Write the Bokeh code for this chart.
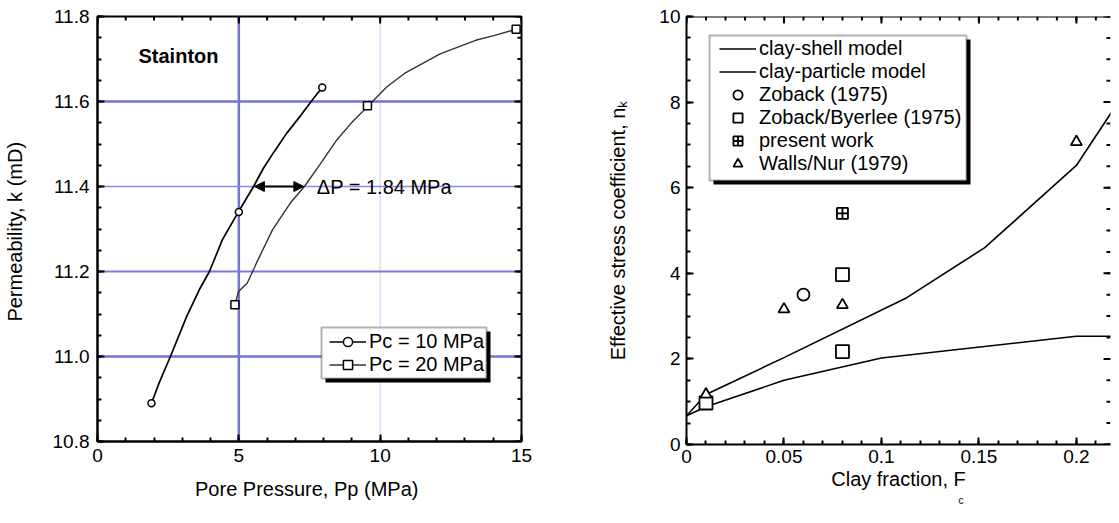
import numpy as np
from bokeh.plotting import figure
from bokeh.layouts import row
from bokeh.models import (FixedTicker, Range1d, Span, Label, Arrow, NormalHead, Legend,
                          LegendItem, Title, BoxAnnotation)
from bokeh.embed import file_html
from bokeh.resources import INLINE

FONT = "Liberation Sans"

# ---------------- left panel data ----------------
pc10_x = [1.91, 2.18, 2.58, 3.16, 3.60, 3.96, 4.42, 4.99, 5.52, 5.87, 6.25, 6.69, 7.20, 7.64, 7.95]
pc10_y = [10.89, 10.938, 11.0, 11.095, 11.157, 11.20, 11.275, 11.341, 11.40, 11.443, 11.482, 11.525, 11.568, 11.607, 11.633]
pc10_mx = [1.91, 5.0, 7.95]
pc10_my = [10.89, 11.34, 11.633]
pc20_x = [4.86, 4.99, 5.30, 5.68, 6.19, 6.82, 7.32, 7.89, 8.46, 8.96, 9.60, 10.23, 10.86, 11.49, 12.12, 12.75, 13.38, 14.02, 14.81]
pc20_y = [11.122, 11.153, 11.173, 11.228, 11.298, 11.361, 11.40, 11.454, 11.509, 11.548, 11.591, 11.634, 11.666, 11.689, 11.712, 11.728, 11.744, 11.755, 11.770]
pc20_mx = [4.86, 9.55, 14.81]
pc20_my = [11.122, 11.59, 11.770]
arrow_x = [5.55, 7.30]
arrow_y = 11.4
left_xticks = [0, 5, 10, 15]
left_xlabels = ["0", "5", "10", "15"]
left_yticks = [10.8, 11.0, 11.2, 11.4, 11.6, 11.8]
left_ylabels = ["10.8", "11.0", "11.2", "11.4", "11.6", "11.8"]
grid_x = [5, 10]
grid_y = [11.0, 11.2, 11.4, 11.6]

# ---------------- right panel data ----------------
shell_x = [0, 0.01, 0.05, 0.113, 0.153, 0.2, 0.22]
shell_y = [0.67, 1.17, 2.03, 3.43, 4.6, 6.52, 7.9]
particle_x = [0, 0.01, 0.05, 0.1, 0.2, 0.22]
particle_y = [0.67, 0.88, 1.5, 2.02, 2.53, 2.53]
zoback_x = [0.06]
zoback_y = [3.5]
zb_x = [0.01, 0.08, 0.08]
zb_y = [0.97, 3.97, 2.17]
present_x = [0.08]
present_y = [5.4]
walls_x = [0.01, 0.05, 0.08, 0.2]
walls_y = [1.17, 3.16, 3.26, 7.07]
right_xticks = [0, 0.05, 0.1, 0.15, 0.2]
right_xlabels = ["0", "0.05", "0.1", "0.15", "0.2"]
right_yticks = [0, 2, 4, 6, 8, 10]
right_ylabels = ["0", "2", "4", "6", "8", "10"]

MAJ_LEN, MIN_LEN, TICK_W = 7, 4, 2


def style_axes(p, fw, fh, xticks, xlabels, xminor, yticks, ylabels, yminor,
               tick_size="19px", open_right=False):
    bx = p.below[0]
    ly = p.left[0]
    bx.ticker = FixedTicker(ticks=xticks, minor_ticks=xminor)
    ly.ticker = FixedTicker(ticks=yticks, minor_ticks=yminor)
    bx.major_label_overrides = {float(v): s for v, s in zip(xticks, xlabels)}
    ly.major_label_overrides = {float(v): s for v, s in zip(yticks, ylabels)}
    for ax in (bx, ly):
        ax.axis_line_width = 2
        ax.axis_line_color = "black"
        ax.major_tick_in = MAJ_LEN
        ax.major_tick_out = 0
        ax.minor_tick_in = MIN_LEN
        ax.minor_tick_out = 0
        ax.major_tick_line_width = TICK_W
        ax.minor_tick_line_width = TICK_W
        ax.major_tick_line_color = "black"
        ax.minor_tick_line_color = "black"
        ax.major_label_text_font = FONT
        ax.major_label_text_font_size = tick_size
        ax.major_label_text_color = "black"
        ax.axis_label_text_font = FONT
        ax.axis_label_text_font_size = "20px"
        ax.axis_label_text_font_style = "normal"
        ax.axis_label_text_color = "black"
    # mirrored inward tick marks on the top and right edges of the frame
    x0, x1 = p.x_range.start, p.x_range.end
    y0, y1 = p.y_range.start, p.y_range.end
    dx = (x1 - x0) / fw
    dy = (y1 - y0) / fh
    for pos, ln in ((xminor, MIN_LEN), (xticks, MAJ_LEN)):
        pos = [v for v in pos if x0 <= v <= x1]
        p.segment(x0=pos, y0=[y1] * len(pos), x1=pos, y1=[y1 - ln * dy] * len(pos),
                  line_color="black", line_width=TICK_W)
    for pos, ln in ((yminor, MIN_LEN), (yticks, MAJ_LEN)):
        pos = [v for v in pos if y0 <= v <= y1]
        p.segment(x0=[x1] * len(pos), y0=pos, x1=[x1 - ln * dx] * len(pos), y1=pos,
                  line_color="black", line_width=TICK_W)
    if open_right:
        # the frame continues past the page edge: no right border line
        p.outline_line_color = None
        p.add_layout(Span(location=y1, dimension="width", line_color="black", line_width=2))
    else:
        p.outline_line_color = "black"
        p.outline_line_width = 2
    p.xgrid.visible = False
    p.ygrid.visible = False
    p.background_fill_color = "white"
    p.border_fill_color = "white"
    return bx, ly


def add_legend(p, items, loc, box, lh, pad):
    # box = (left, right, bottom, top) of the framed legend box, frame-relative pixels
    l, r, b, t = box
    scr = dict(left_units="screen", right_units="screen", top_units="screen",
               bottom_units="screen")
    p.add_layout(BoxAnnotation(left=l + 4, right=r + 4, bottom=b - 4, top=t - 4,
                               fill_color="black", fill_alpha=1, line_color=None, **scr))
    p.add_layout(BoxAnnotation(left=l, right=r, bottom=b, top=t, fill_color="white",
                               fill_alpha=1, line_color="black", line_width=2, **scr))
    lg = Legend(items=[LegendItem(label=lab, renderers=rr) for lab, rr in items],
                location=loc, label_text_font=FONT, label_text_font_size="20px",
                label_height=lh, glyph_height=lh, glyph_width=37, label_standoff=3,
                padding=pad, spacing=0, margin=0, border_line_color="black",
                border_line_alpha=0, background_fill_alpha=0, label_text_color="black")
    p.add_layout(lg)


# ================= LEFT =================
FW1, FH1 = 424, 425
p1 = figure(frame_width=FW1, frame_height=FH1, min_border_left=96, min_border_right=62,
            min_border_top=12, min_border_bottom=70,
            x_range=Range1d(0, 15), y_range=Range1d(10.8, 11.8),
            output_backend="svg", toolbar_location=None,
            x_axis_label="Pore Pressure, Pp  (MPa)", y_axis_label="Permeability, k  (mD)")
bx1, ly1 = style_axes(p1, FW1, FH1, left_xticks, left_xlabels, list(np.arange(0, 16, 1.0)),
                      left_yticks, left_ylabels, list(np.round(np.arange(10.8, 11.81, 0.05), 2)))
bx1.major_label_standoff = 7
ly1.major_label_standoff = 8
bx1.axis_label_standoff = 13
ly1.axis_label_standoff = 24

gx_styles = [("#7272d8", 2.5), ("#d4d4f4", 1.2)]
for v, (c, w) in zip(grid_x, gx_styles):
    p1.add_layout(Span(location=v, dimension="height", line_color=c, line_width=w, level="underlay"))
gy_styles = [("#7272d8", 2.5), ("#7a7adc", 2.0), ("#8a8ae0", 1.5), ("#7272d8", 2.5)]
for v, (c, w) in zip(grid_y, gy_styles):
    p1.add_layout(Span(location=v, dimension="width", line_color=c, line_width=w, level="underlay"))

r10l = p1.line(pc10_x, pc10_y, line_color="black", line_width=1.7)
r10m = p1.scatter(pc10_mx, pc10_my, marker="circle", size=7, fill_color="white",
                  line_color="black", line_width=1.5)
r20l = p1.line(pc20_x, pc20_y, line_color="#333333", line_width=1.4)
r20m = p1.scatter(pc20_mx, pc20_my, marker="square", size=8, fill_color="white",
                  line_color="black", line_width=1.5)

p1.add_layout(Arrow(start=NormalHead(size=10, fill_color="black", line_color="black"),
                    end=NormalHead(size=10, fill_color="black", line_color="black"),
                    x_start=arrow_x[0], y_start=arrow_y, x_end=arrow_x[1], y_end=arrow_y,
                    line_width=2, line_color="black"))
p1.add_layout(Label(x=7.76, y=11.4, text="\u0394P = 1.84 MPa", text_font=FONT,
                    text_font_size="20px", text_baseline="middle", text_color="black"))
p1.add_layout(Label(x=1.45, y=11.708, text="Stainton", text_font=FONT, text_font_style="bold",
                    text_font_size="20px", text_baseline="middle", text_color="black"))

add_legend(p1, [("Pc = 10 MPa", [r10l, r10m]), ("Pc = 20 MPa", [r20l, r20m])],
           (230, 63), (224, 389, 63, 114), 23, 2)

# ================= RIGHT =================
FW2, FH2 = 424, 428
x_max = 0.2175
p2 = figure(frame_width=FW2, frame_height=FH2, min_border_left=103, min_border_right=2,
            min_border_top=16, min_border_bottom=63,
            x_range=Range1d(0, x_max), y_range=Range1d(0, 10),
            output_backend="svg", toolbar_location=None,
            x_axis_label="Clay fraction, F",
            y_axis_label="Effective stress coefficient, n\u2096")
bx2, ly2 = style_axes(p2, FW2, FH2, right_xticks, right_xlabels,
                      list(np.round(np.arange(0, 0.221, 0.01), 3)),
                      right_yticks, right_ylabels, list(np.arange(0, 10.01, 0.5)),
                      open_right=True)
bx2.major_label_standoff = 5
ly2.major_label_standoff = 6
bx2.axis_label_standoff = 2
ly2.axis_label_standoff = 27

p2.add_layout(Title(text="c", text_font=FONT, text_font_size="10px", text_font_style="normal",
                    text_color="black", align="left", offset=272, standoff=0), "below")

rs = p2.line(shell_x, shell_y, line_color="black", line_width=1.6)
rp = p2.line(particle_x, particle_y, line_color="black", line_width=1.6)
rz = p2.scatter(zoback_x, zoback_y, marker="circle", size=12, fill_color="white",
                line_color="black", line_width=1.8)
rzb = p2.scatter(zb_x, zb_y, marker="square", size=13, fill_color="white",
                 line_color="black", line_width=1.8)
rpw = p2.scatter(present_x, present_y, marker="square_cross", size=11, fill_color="white",
                 line_color="black", line_width=1.8)
rw = p2.scatter(walls_x, walls_y, marker="triangle", size=11, fill_color="white",
                line_color="black", line_width=1.8)

add_legend(p2, [("clay-shell model", [rs]), ("clay-particle model", [rp]),
                ("Zoback (1975)", [rz]), ("Zoback/Byerlee (1975)", [rzb]),
                ("present work", [rpw]), ("Walls/Nur (1979)", [rw])],
           (31, 267), (23, 280, 264, 409), 23, 2)

layout = row(p1, p2)
open("out.html", "w").write(file_html(layout, INLINE))
